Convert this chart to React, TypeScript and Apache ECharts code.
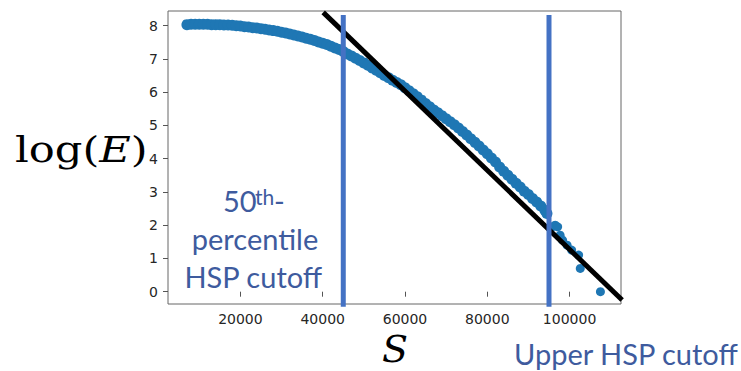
import { useEffect, useRef } from "react";
import * as echarts from "echarts";

// Dense scatter of (S, log(E))
const S_VALUES = [
  7000, 8000, 9000, 10000, 11000, 12000, 13000, 14000, 15000, 16000,
  17000, 18000, 19000, 20000, 21000, 22000, 23000, 24000, 25000, 26000,
  27000, 28000, 29000, 30000, 31000, 32000, 33000, 34000, 35000, 36000,
  37000, 38000, 39000, 40000, 41000, 42000, 43000, 44000, 45000, 46000,
  47000, 48000, 49000, 50000, 51000, 52000, 53000, 54000, 55000, 56000,
  57000, 58000, 59000, 60000, 61000, 62000, 63000, 64000, 65000, 66000,
  67000, 68000, 69000, 70000, 71000, 72000, 73000, 74000, 75000, 76000,
  77000, 78000, 79000, 80000, 81000, 82000, 83000, 84000, 85000, 86000,
  87000, 88000, 89000, 90000, 91000, 92000, 93000, 94000, 94500,
];
const LOG_E_VALUES = [
  8.03, 8.04, 8.04, 8.04, 8.04, 8.04, 8.03, 8.03, 8.03, 8.02,
  8.02, 8.01, 8.0, 7.99, 7.97, 7.96, 7.94, 7.93, 7.91, 7.89,
  7.87, 7.85, 7.83, 7.8, 7.78, 7.75, 7.72, 7.69, 7.66, 7.62,
  7.59, 7.55, 7.51, 7.47, 7.43, 7.38, 7.33, 7.28, 7.22, 7.15,
  7.09, 7.02, 6.95, 6.88, 6.81, 6.73, 6.66, 6.58, 6.5, 6.43,
  6.36, 6.29, 6.22, 6.13, 6.04, 5.95, 5.86, 5.76, 5.66, 5.56,
  5.46, 5.38, 5.29, 5.2, 5.11, 5.02, 4.92, 4.82, 4.71, 4.6,
  4.49, 4.38, 4.26, 4.15, 4.02, 3.9, 3.75, 3.62, 3.5, 3.38,
  3.26, 3.15, 3.02, 2.92, 2.8, 2.7, 2.58, 2.45, 2.35,
];
// Sparse tail points
const TAIL_S = [95800, 96500, 97100, 97700, 98300, 99400, 100500, 102200, 102600, 107500];
const TAIL_LOG_E = [1.95, 2.0, 1.95, 1.7, 1.55, 1.4, 1.25, 1.1, 0.7, 0.0];

// Linear fit line end points
const FIT_S = [40120, 112770];
const FIT_LOG_E = [8.4, -0.25];

// HSP cutoffs
const CUTOFFS = [45000, 95000];
const CUTOFF_SPAN = [8.32, -0.45];

const X_TICKS = [20000, 40000, 60000, 80000, 100000];
const Y_TICKS = [0, 1, 2, 3, 4, 5, 6, 7, 8];

const LABEL_BLUE = "#3E5B9E";
const LINE_BLUE = "#4472C4";
const DOT_BLUE = "#1f77b4";

export default function App() {
  const ref = useRef<HTMLDivElement>(null);

  useEffect(() => {
    if (!ref.current) return;
    const chart = echarts.init(ref.current, null, { renderer: "svg" });

    const scatterData = S_VALUES.map((s, i) => [s, LOG_E_VALUES[i]]);
    const tailData = TAIL_S.map((s, i) => [s, TAIL_LOG_E[i]]);
    const fitData = FIT_S.map((s, i) => [s, FIT_LOG_E[i]]);

    const cutoffSeries = CUTOFFS.map((c) => ({
      type: "line",
      data: CUTOFF_SPAN.map((y) => [c, y]),
      symbol: "none",
      clip: false,
      silent: true,
      lineStyle: { color: LINE_BLUE, width: 5 },
      z: 5,
    }));

    const lato = "Lato, 'Open Sans', sans-serif";
    const tickFont = {
      fontSize: 14,
      color: "#262626",
      fontFamily: "'DejaVu Sans', sans-serif",
    };

    chart.setOption({
      animation: false,
      backgroundColor: "#ffffff",
      grid: {
        left: 168,
        top: 11,
        right: 120,
        bottom: 67,
        show: true,
        borderColor: "#666666",
        borderWidth: 1,
        outerBoundsMode: "none",
      },
      xAxis: {
        type: "value",
        min: 2400,
        max: 112500,
        axisLine: { show: false },
        splitLine: { show: false },
        axisTick: {
          show: true,
          inside: false,
          length: 5,
          customValues: X_TICKS,
          lineStyle: { color: "#555555" },
        },
        axisLabel: {
          customValues: X_TICKS,
          margin: 8,
          formatter: (v: number) => String(Math.round(v)),
          ...tickFont,
        },
      },
      yAxis: {
        type: "value",
        min: -0.37,
        max: 8.44,
        axisLine: { show: false },
        splitLine: { show: false },
        axisTick: {
          show: true,
          inside: false,
          length: 5,
          customValues: Y_TICKS,
          lineStyle: { color: "#555555" },
        },
        axisLabel: {
          customValues: Y_TICKS,
          margin: 10,
          formatter: (v: number) => String(Math.round(v)),
          ...tickFont,
        },
      },
      series: [
        {
          type: "scatter",
          data: scatterData,
          symbolSize: 11,
          itemStyle: { color: DOT_BLUE, opacity: 1 },
          z: 2,
        },
        {
          type: "scatter",
          data: tailData,
          symbolSize: 9,
          itemStyle: { color: DOT_BLUE, opacity: 1 },
          z: 2,
        },
        {
          type: "line",
          data: fitData,
          symbol: "none",
          clip: false,
          lineStyle: { color: "#000000", width: 5 },
          z: 3,
        },
        ...cutoffSeries,
      ],
      graphic: [
        {
          type: "text",
          x: 15,
          y: 149.2,
          scaleX: 1.2,
          style: {
            text: "{a|log(}{b|E}{a|)}",
            verticalAlign: "middle",
            align: "left",
            rich: {
              a: { fontSize: 36, fontFamily: "'DejaVu Serif', serif", fill: "#000" },
              b: { fontSize: 36, fontFamily: "'DejaVu Serif', serif", fontStyle: "italic", fill: "#000" },
            },
          },
        },
        {
          type: "text",
          x: 395,
          y: 348.5,
          style: {
            text: "S",
            fontSize: 38,
            fontStyle: "italic",
            fontFamily: "'DejaVu Serif', serif",
            fill: "#000",
            align: "center",
            verticalAlign: "middle",
          },
        },
        {
          type: "text",
          x: 223,
          y: 200.5,
          style: { text: "50", fontSize: 29, fontFamily: lato, fill: LABEL_BLUE, align: "left", verticalAlign: "middle" },
        },
        {
          type: "text",
          x: 255,
          y: 196.9,
          style: { text: "th", fontSize: 21, fontFamily: lato, fill: LABEL_BLUE, align: "left", verticalAlign: "middle" },
        },
        {
          type: "text",
          x: 274,
          y: 200.5,
          style: { text: "-", fontSize: 29, fontFamily: lato, fill: LABEL_BLUE, align: "left", verticalAlign: "middle" },
        },
        {
          type: "text",
          x: 255,
          y: 238.8,
          style: { text: "percentile", fontSize: 29, fontFamily: lato, fill: LABEL_BLUE, align: "center", verticalAlign: "middle" },
        },
        {
          type: "text",
          x: 253.3,
          y: 276.1,
          style: { text: "HSP cutoff", fontSize: 29, fontFamily: lato, fill: LABEL_BLUE, align: "center", verticalAlign: "middle" },
        },
        {
          type: "text",
          x: 514,
          y: 353.8,
          style: { text: "Upper HSP cutoff", fontSize: 29, fontFamily: lato, fill: LABEL_BLUE, align: "left", verticalAlign: "middle" },
        },
      ],
    });

    return () => chart.dispose();
  }, []);

  return (
    <div
      ref={ref}
      style={{ position: "fixed", left: 0, top: 0, width: 741, height: 371, background: "#fff" }}
    />
  );
}
